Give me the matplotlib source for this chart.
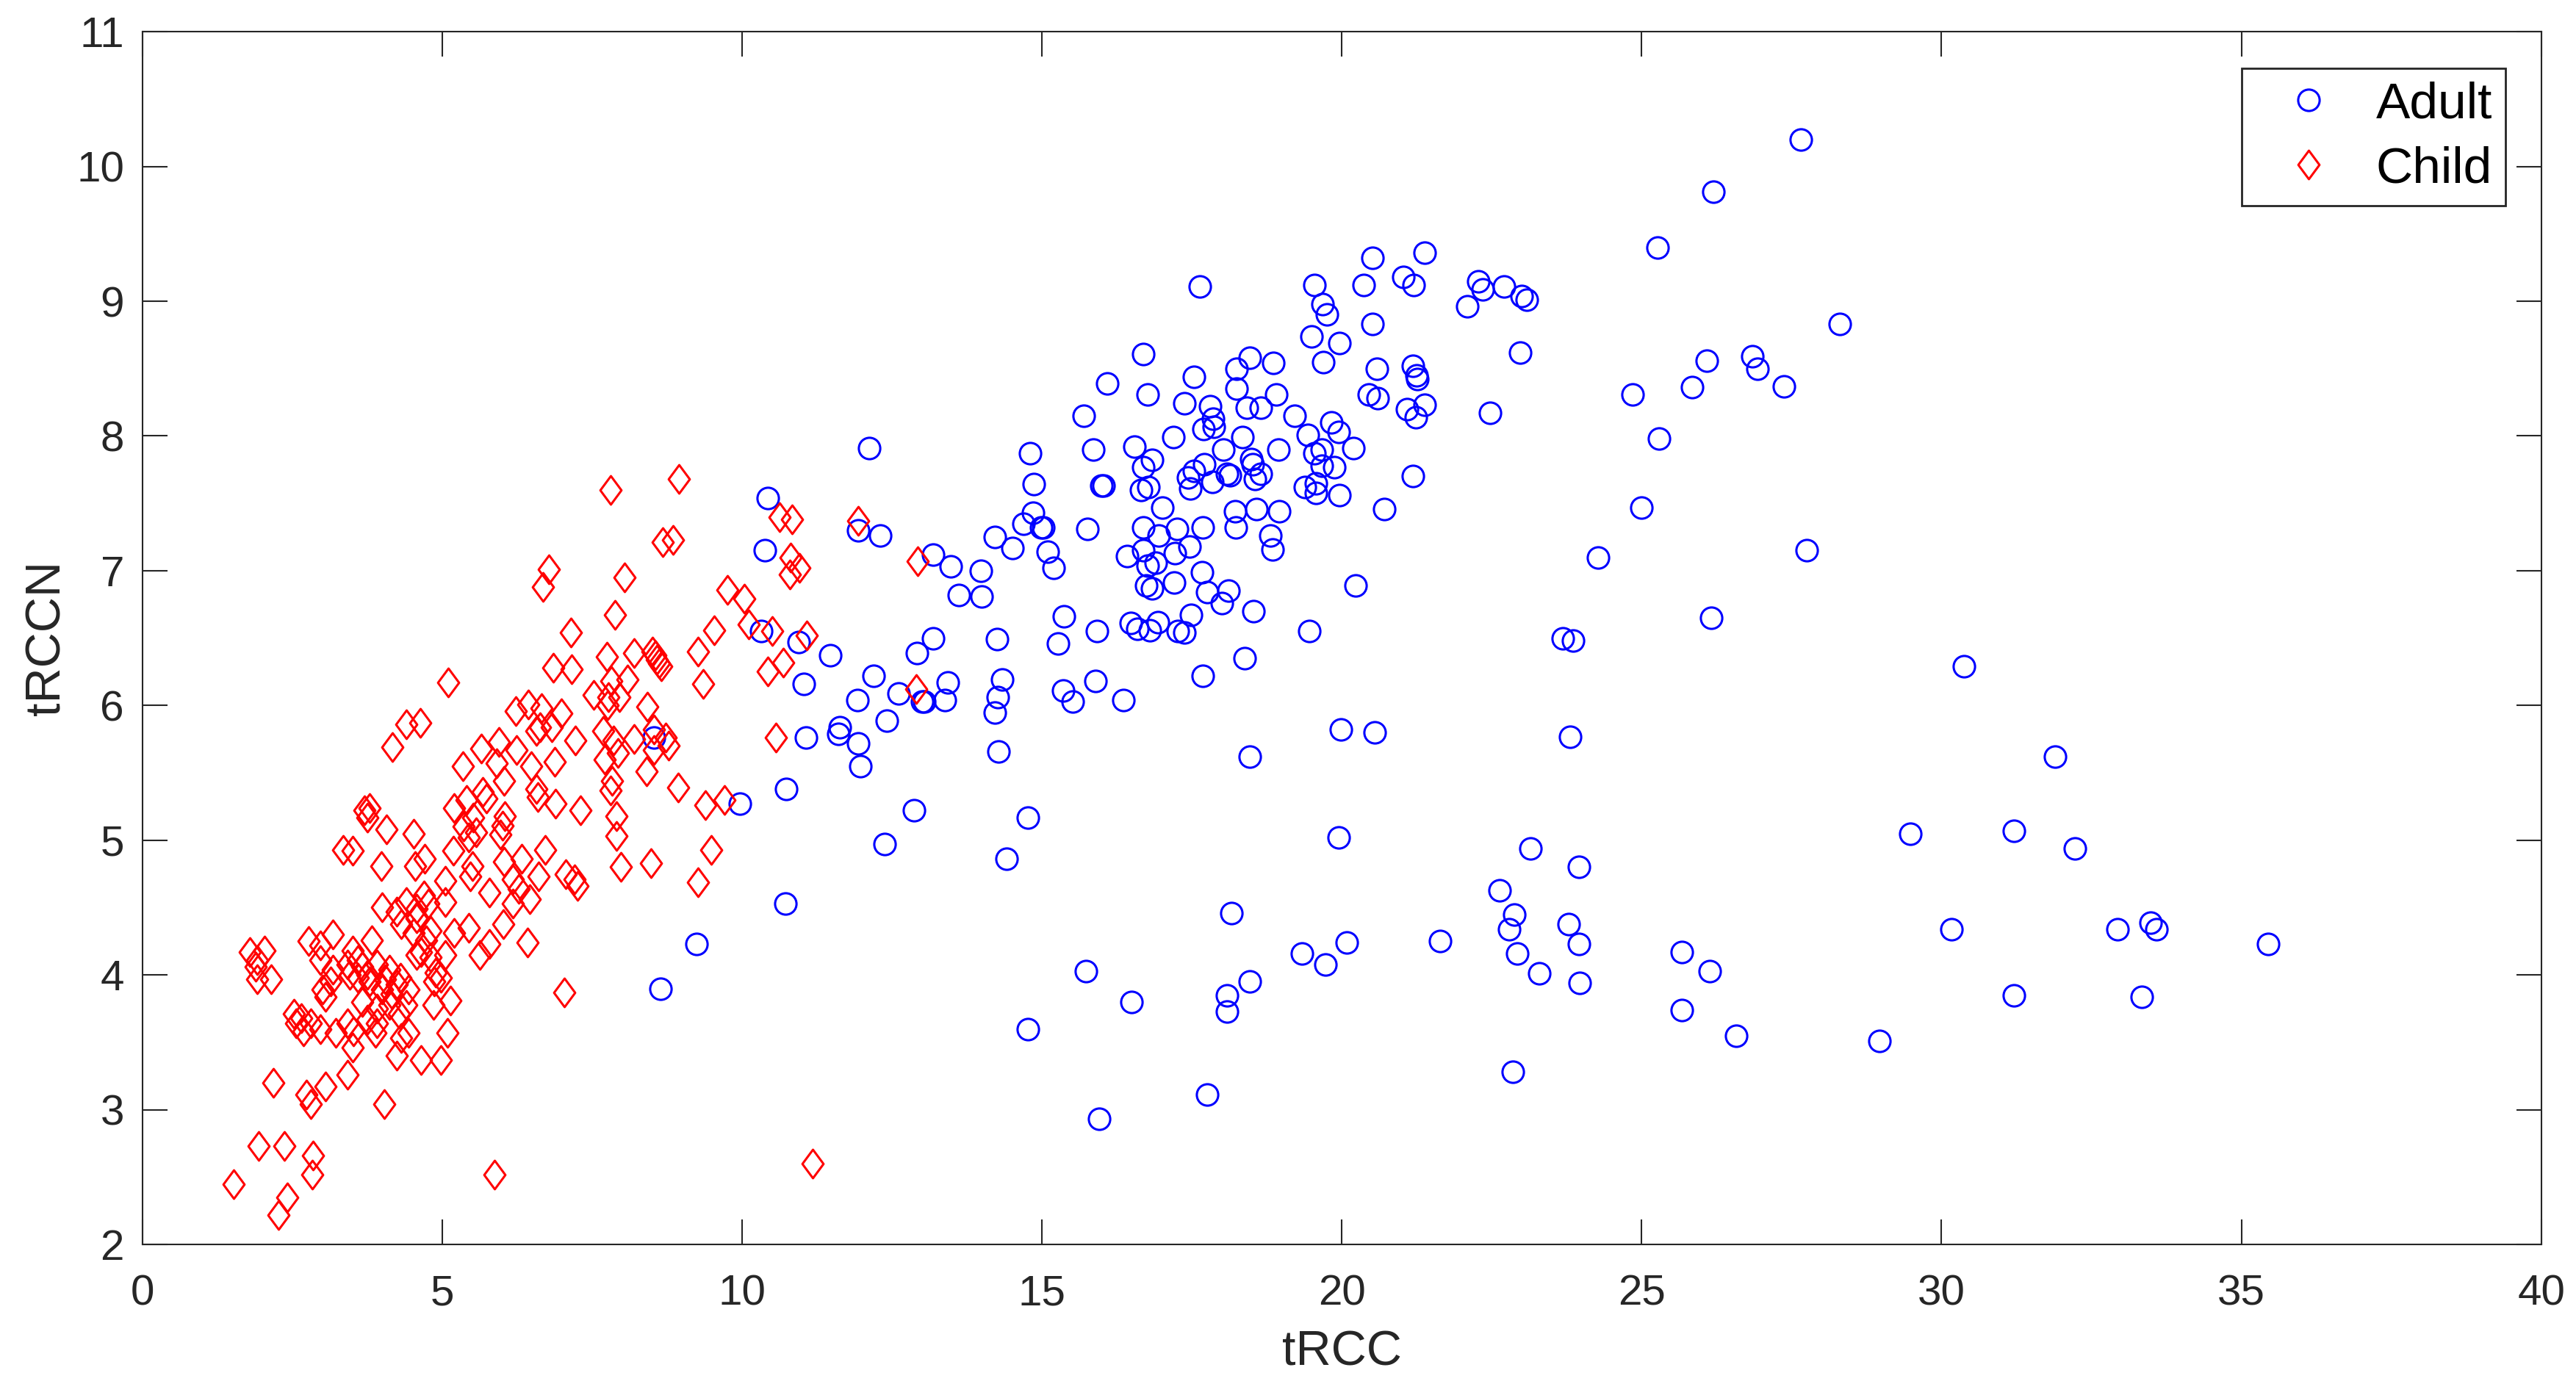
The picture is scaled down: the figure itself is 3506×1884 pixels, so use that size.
import numpy as np
import matplotlib
matplotlib.use("Agg")
import matplotlib.pyplot as plt
from matplotlib.path import Path

plt.rcParams['font.family'] = ['Liberation Sans', 'DejaVu Sans']

# tRCC, tRCCN pairs
adult = np.array([
    # dense cluster, upper part
    (17.63, 9.11), (16.69, 8.61), (17.54, 8.44), (16.09, 8.39), (16.76, 8.31), (17.38, 8.24),
    (17.80, 8.22), (15.70, 8.15), (17.69, 8.05), (17.86, 8.07), (17.85, 8.13), (17.19, 7.99),
    (12.12, 7.91), (14.80, 7.87), (15.86, 7.90), (16.54, 7.92), (16.84, 7.82), (16.69, 7.77),
    (17.71, 7.79), (17.53, 7.74), (17.43, 7.69), (14.86, 7.64), (15.99, 7.63), (16.03, 7.63),
    (16.65, 7.60), (16.78, 7.62), (17.47, 7.61), (17.84, 7.66), (17.01, 7.47), (14.85, 7.43),
    (21.38, 9.36), (20.51, 9.32), (21.02, 9.18), (21.20, 9.12), (22.28, 9.15), (22.35, 9.09),
    (22.71, 9.11), (23.00, 9.04), (23.08, 9.01), (22.09, 8.96), (19.54, 9.12), (19.68, 8.98),
    (19.75, 8.90), (20.36, 9.12), (20.51, 8.83), (19.49, 8.74), (19.96, 8.69), (19.69, 8.55),
    (22.97, 8.62), (18.46, 8.58), (18.24, 8.50), (18.86, 8.54), (20.58, 8.50), (21.19, 8.52),
    (21.25, 8.45), (21.26, 8.42), (18.25, 8.35), (18.91, 8.31), (20.45, 8.31), (20.60, 8.28),
    (18.41, 8.21), (18.65, 8.21), (19.21, 8.15), (21.09, 8.20), (21.38, 8.23), (21.24, 8.14),
    (22.47, 8.17), (19.82, 8.10), (19.95, 8.03), (19.43, 8.01), (18.34, 7.99), (18.02, 7.90),
    (18.94, 7.90), (19.54, 7.87), (19.66, 7.90), (20.19, 7.91), (18.49, 7.83), (18.51, 7.79),
    (18.65, 7.72), (18.55, 7.68), (18.09, 7.72), (18.13, 7.71), (19.67, 7.78), (19.87, 7.77),
    (19.57, 7.65), (19.38, 7.62), (19.57, 7.58), (19.96, 7.56), (21.18, 7.70), (20.71, 7.46),
    (18.22, 7.44), (18.58, 7.46), (18.96, 7.44),
    # dense cluster, lower part
    (11.94, 7.30), (12.30, 7.26), (13.19, 7.12), (13.48, 7.03), (13.98, 7.00), (13.61, 6.82),
    (13.99, 6.81), (14.21, 7.25), (14.51, 7.17), (14.69, 7.35), (14.98, 7.32), (15.02, 7.32),
    (15.10, 7.14), (15.19, 7.02), (15.76, 7.31), (16.69, 7.32), (16.94, 7.26), (17.25, 7.31),
    (17.68, 7.32), (16.42, 7.11), (16.69, 7.15), (16.90, 7.06), (16.76, 7.04), (17.22, 7.13),
    (17.46, 7.18), (17.67, 6.99), (16.74, 6.89), (16.84, 6.87), (17.20, 6.91), (17.76, 6.84),
    (15.37, 6.66), (15.92, 6.55), (15.27, 6.46), (16.48, 6.61), (16.59, 6.57), (16.80, 6.56),
    (16.93, 6.62), (17.27, 6.55), (17.38, 6.54), (17.49, 6.67), (14.25, 6.49), (13.18, 6.50),
    (12.91, 6.39), (12.19, 6.22), (12.61, 6.09), (11.92, 6.04), (13.00, 6.03), (13.04, 6.03),
    (13.43, 6.17), (13.38, 6.04), (12.41, 5.89), (11.94, 5.72), (11.97, 5.55), (14.34, 6.19),
    (14.26, 6.06), (14.21, 5.95), (14.28, 5.66), (15.35, 6.11), (15.51, 6.03), (15.89, 6.18),
    (16.36, 6.04), (17.68, 6.22), (12.87, 5.22),
    (18.23, 7.32), (18.81, 7.26), (18.85, 7.16), (18.11, 6.85), (18.00, 6.76), (18.53, 6.70),
    (20.23, 6.89), (19.46, 6.55), (18.38, 6.35), (23.69, 6.50), (23.86, 6.48), (19.99, 5.82),
    (20.55, 5.80), (23.81, 5.77), (18.46, 5.62),
    # among the children
    (10.43, 7.54), (10.38, 7.15), (10.32, 6.55), (10.94, 6.47), (11.47, 6.37), (11.03, 6.16),
    (11.63, 5.84), (11.61, 5.79), (11.07, 5.76), (10.74, 5.38), (8.53, 5.76), (9.96, 5.27),
    (10.72, 4.53), (9.24, 4.23), (8.64, 3.90),
    # sparse outliers
    (27.65, 10.20), (26.20, 9.81), (25.26, 9.40), (28.30, 8.83), (24.85, 8.31), (25.84, 8.36),
    (26.08, 8.56), (26.85, 8.59), (26.93, 8.50), (27.37, 8.37), (25.29, 7.98), (24.99, 7.47),
    (27.75, 7.15), (24.27, 7.10), (26.16, 6.65), (30.38, 6.29), (31.89, 5.62), (29.48, 5.05),
    (31.21, 5.07), (32.22, 4.94), (23.15, 4.94), (23.95, 4.80), (22.63, 4.63), (22.88, 4.45),
    (22.79, 4.34), (23.78, 4.38), (23.95, 4.23), (30.16, 4.34), (32.93, 4.34), (33.48, 4.39),
    (33.59, 4.34), (35.45, 4.23), (21.64, 4.25), (22.93, 4.16), (25.67, 4.17), (26.14, 4.03),
    (23.29, 4.01), (23.97, 3.94), (31.21, 3.85), (33.34, 3.84), (25.67, 3.74), (26.58, 3.55),
    (28.96, 3.51), (22.85, 3.28), (20.08, 4.24), (19.34, 4.16), (19.73, 4.08), (18.16, 4.46),
    (18.47, 3.95), (18.08, 3.85), (18.08, 3.73), (17.75, 3.11), (15.95, 2.93), (15.73, 4.03),
    (16.49, 3.80), (14.77, 3.60), (19.95, 5.02), (14.77, 5.17), (14.41, 4.86), (12.38, 4.97),
])

child = np.array([
    # lower-left cluster
    (3.35, 4.93), (3.50, 4.92), (3.98, 4.81), (4.55, 4.81), (4.71, 4.86), (5.18, 4.92),
    (5.50, 4.81), (6.03, 4.84), (6.32, 4.86), (6.72, 4.93), (5.05, 4.70), (5.46, 4.73),
    (5.79, 4.61), (6.18, 4.71), (6.28, 4.64), (6.46, 4.56), (6.18, 4.53), (6.61, 4.73),
    (3.99, 4.50), (4.24, 4.47), (4.40, 4.54), (4.57, 4.49), (4.69, 4.59), (4.77, 4.53),
    (5.05, 4.54), (4.32, 4.38), (4.57, 4.42), (5.44, 4.35), (6.02, 4.38), (6.42, 4.24),
    (5.63, 4.15), (5.79, 4.23), (5.20, 4.31), (5.05, 4.15), (4.81, 4.33), (4.73, 4.26),
    (4.65, 4.17), (4.89, 4.02), (4.87, 3.95), (5.14, 3.81), (4.85, 3.78), (5.08, 3.57),
    (4.97, 3.37), (4.65, 3.37), (4.24, 3.40), (4.44, 3.57), (4.32, 3.53), (4.40, 3.78),
    (4.24, 3.93), (4.16, 3.86), (3.83, 4.26), (3.99, 3.89), (3.91, 3.64), (3.75, 3.67),
    (4.05, 3.97), (3.67, 4.06), (3.59, 3.98), (3.75, 4.00), (3.59, 4.11), (3.79, 3.95),
    (3.91, 4.08), (3.14, 3.95), (3.00, 3.89), (3.18, 4.04), (2.97, 4.22), (2.77, 4.25),
    (3.18, 4.30), (3.50, 4.18), (3.52, 3.58), (3.50, 3.46), (3.89, 3.57), (3.42, 3.26),
    (3.05, 3.17), (2.73, 3.11), (2.81, 3.04), (2.18, 3.20), (2.56, 3.64), (2.65, 3.68),
    (2.52, 3.71), (2.69, 3.58), (2.97, 3.60), (3.22, 3.57), (1.79, 4.17), (2.03, 4.18),
    (1.89, 4.06), (1.91, 3.97), (2.14, 3.97), (1.91, 4.11), (4.03, 3.04), (1.94, 2.73),
    (2.37, 2.73), (2.85, 2.66), (2.83, 2.52), (1.52, 2.45), (2.41, 2.35), (2.27, 2.22),
    (5.87, 2.52), (4.12, 4.04), (4.30, 3.98), (4.44, 3.89), (4.12, 3.78), (3.91, 3.75),
    (4.28, 3.71), (3.67, 3.80), (3.46, 4.00), (3.42, 4.08), (4.52, 4.31), (4.57, 4.15),
    (4.81, 4.13), (4.97, 3.98), (2.97, 4.11), (3.05, 3.84), (2.81, 3.64), (3.42, 3.64),
    # middle band
    (6.78, 7.01), (6.68, 6.88), (5.10, 6.17), (4.40, 5.86), (4.63, 5.87), (4.17, 5.69),
    (6.23, 5.96), (6.43, 6.01), (6.65, 5.98), (6.85, 6.28), (6.57, 5.81), (6.63, 5.84),
    (5.65, 5.68), (5.94, 5.73), (6.24, 5.67), (5.34, 5.55), (5.91, 5.57), (6.03, 5.44),
    (6.48, 5.55), (6.88, 5.58), (6.57, 5.38), (6.59, 5.32), (5.67, 5.36), (5.73, 5.31),
    (5.40, 5.30), (5.20, 5.24), (5.52, 5.17), (6.04, 5.18), (6.00, 5.11), (5.97, 5.04),
    (5.44, 5.02), (3.79, 5.24), (3.75, 5.17), (3.70, 5.22), (4.07, 5.08), (4.52, 5.05),
    (5.36, 5.10), (5.56, 5.06),
    # upper-right of the cluster
    (7.80, 7.60), (8.95, 7.68), (10.63, 7.40), (10.83, 7.38), (11.94, 7.37), (8.67, 7.21),
    (8.85, 7.23), (8.04, 6.95), (7.88, 6.67), (10.81, 7.10), (10.96, 7.02), (10.79, 6.97),
    (9.75, 6.86), (10.03, 6.79), (10.11, 6.60), (10.50, 6.55), (11.08, 6.52), (9.53, 6.56),
    (9.27, 6.40), (9.35, 6.16), (10.43, 6.25), (10.69, 6.32), (10.56, 5.76), (7.14, 6.54),
    (7.75, 6.36), (8.20, 6.39), (8.50, 6.40), (8.55, 6.37), (8.58, 6.34), (8.62, 6.31),
    (8.65, 6.29), (7.16, 6.27), (7.82, 6.18), (8.09, 6.19), (7.52, 6.08), (7.77, 6.06),
    (7.95, 6.06), (7.76, 6.00), (8.42, 5.99), (6.98, 5.94), (6.83, 5.84), (7.22, 5.74),
    (7.68, 5.81), (7.85, 5.74), (7.93, 5.65), (7.71, 5.60), (8.20, 5.75), (8.53, 5.82),
    (8.53, 5.67), (8.73, 5.76), (8.77, 5.70), (8.41, 5.51), (7.83, 5.44), (7.81, 5.37),
    (8.93, 5.39), (9.39, 5.26), (9.70, 5.30), (6.89, 5.27), (7.30, 5.22), (7.91, 5.18),
    (12.93, 7.07), (12.90, 6.12),
    (9.49, 4.93), (9.27, 4.69), (8.48, 4.83), (7.98, 4.80), (7.91, 5.03), (7.06, 4.75),
    (7.20, 4.71), (7.26, 4.66), (7.04, 3.87), (11.17, 2.60),
])

x_ticks = np.arange(0, 41, 5)
y_ticks = np.arange(2, 12, 1)

ink = '#262626'
diamond = Path([(0, 1), (0.74, 0), (0, -1), (-0.74, 0), (0, 1)], closed=True)

fig = plt.figure(figsize=(17.53, 9.42), dpi=200)
ax = fig.add_axes([0.0553, 0.1008, 0.9312, 0.8763])

ax.plot(adult[:, 0], adult[:, 1], 'o', ls='none', mfc='none', mec=(0, 0, 1),
        ms=10.5, mew=1.1, label='Adult')
ax.plot(child[:, 0], child[:, 1], marker=diamond, ls='none', mfc='none', mec=(1, 0, 0),
        ms=14, mew=1.1, label='Child')

ax.set_xlim(0, 40)
ax.set_ylim(2, 11)
ax.set_xticks(x_ticks)
ax.set_yticks(y_ticks)

ax.tick_params(axis='both', direction='in', top=True, right=True, length=12.2,
               width=0.75, colors=ink, labelsize=21)
ax.tick_params(axis='x', pad=14.5)
ax.tick_params(axis='y', pad=9)
for s in ax.spines.values():
    s.set_color(ink)
    s.set_linewidth(0.75)

ax.set_xlabel('tRCC', fontsize=24, color=ink, labelpad=8)
ax.set_ylabel('tRCCN', fontsize=24, color=ink, labelpad=3)

leg = ax.legend(loc='upper right', bbox_to_anchor=(0.985, 0.9697), borderaxespad=0,
                fontsize=25, borderpad=0.25, handlelength=2.13, handletextpad=0.26,
                labelspacing=0.34, fancybox=False, framealpha=1)
leg.get_frame().set_edgecolor(ink)
leg.get_frame().set_linewidth(1.0)

fig.savefig('out.png', dpi=200)
